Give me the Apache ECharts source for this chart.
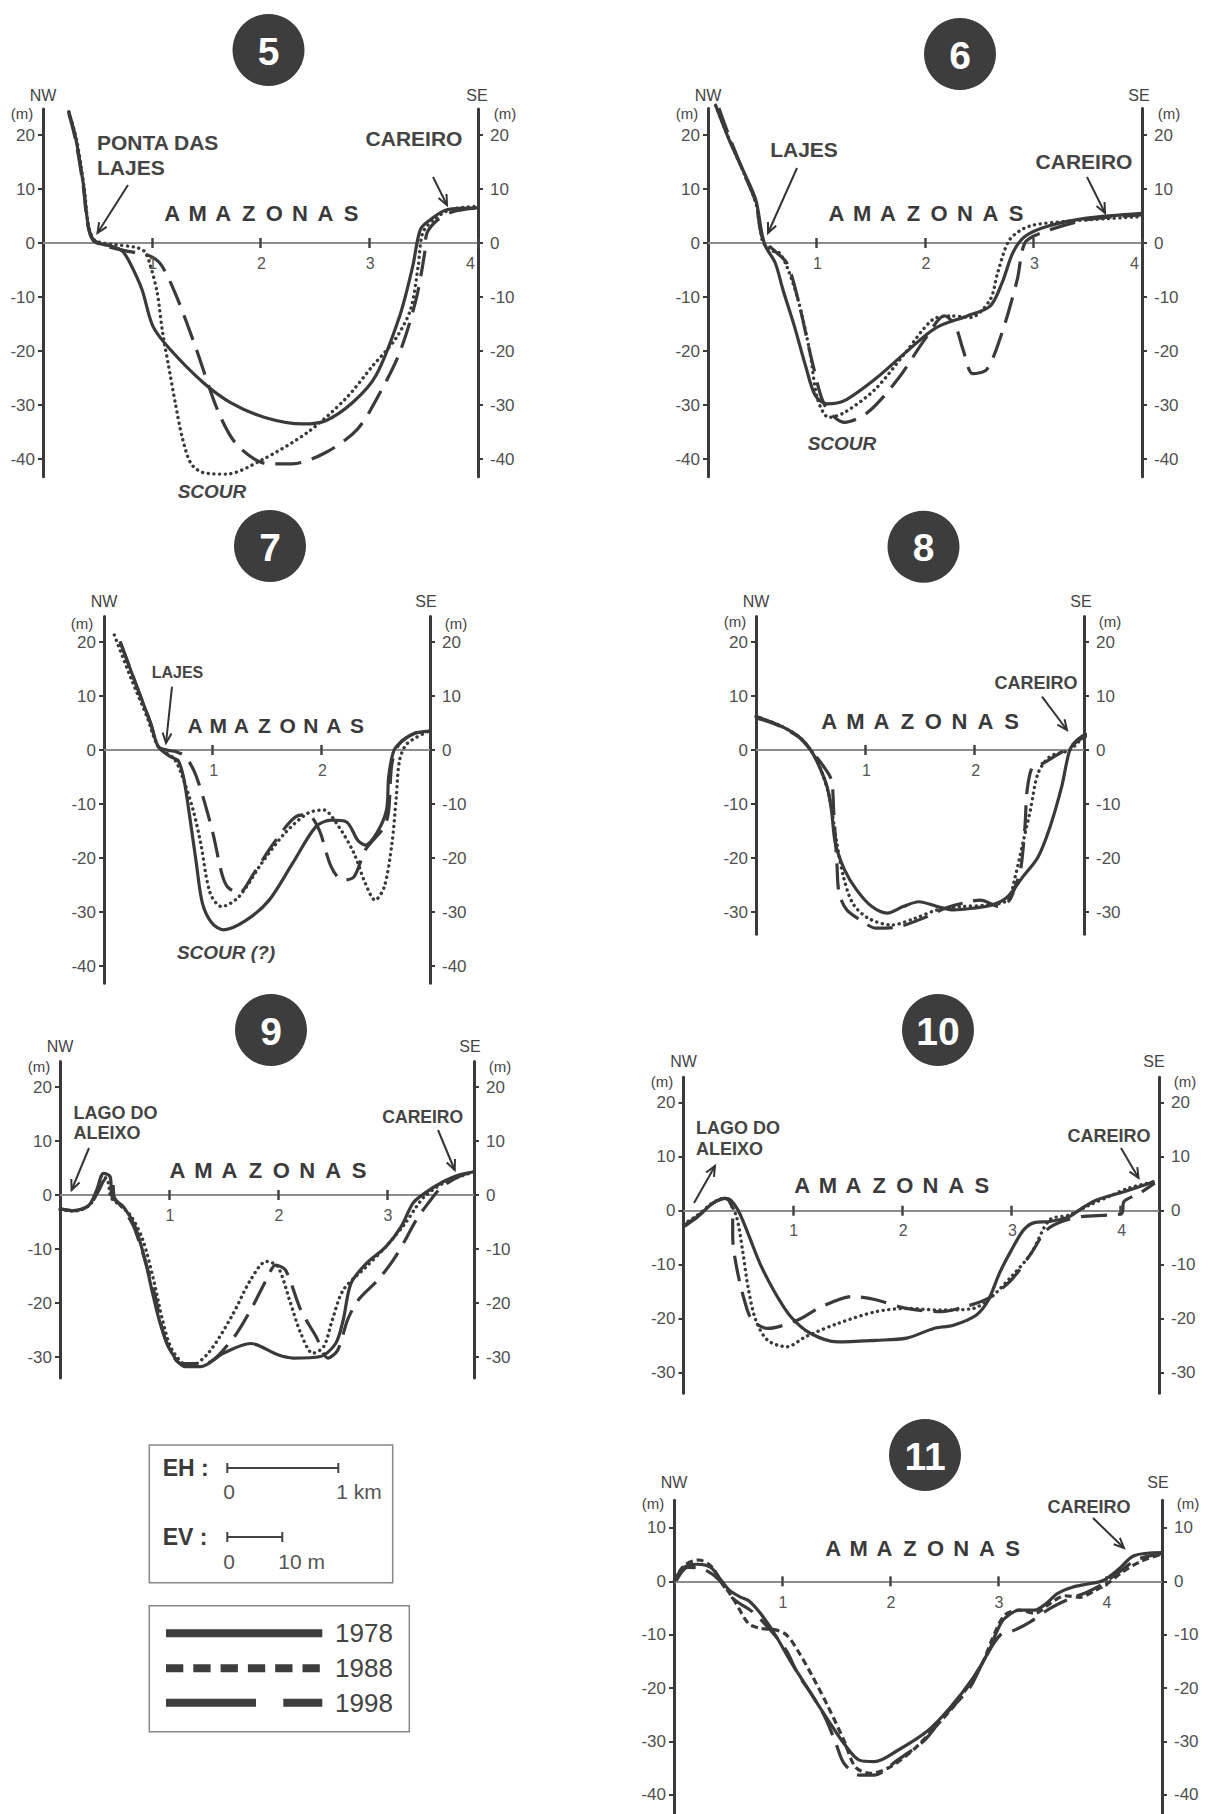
<!DOCTYPE html>
<html>
<head>
<meta charset="utf-8">
<title>Perfis transversais do rio Amazonas</title>
<script src="https://cdn.jsdelivr.net/npm/echarts@6/dist/echarts.min.js"></script>
<style>
html, body { margin: 0; padding: 0; background: #fff; }
#main { width: 1212px; height: 1814px; }
</style>
</head>
<body>
<div id="main"></div>
<script>
// perfis: [distancia (km), cota (m)] por ano
var p5_1978 = [[0.237,24.3],[0.30,19.5],[0.37,11],[0.41,4],[0.45,1],[0.52,-0.1],[0.63,-0.6],[0.73,-1.5],[0.80,-3.7],[0.91,-8.6],[1.01,-15.4],[1.16,-19.5],[1.47,-25.8],[1.72,-29.5],[2.04,-32.3],[2.39,-33.5],[2.60,-32.9],[2.85,-29.5],[3.06,-24.6],[3.28,-13.5],[3.40,-4.3],[3.47,2.5],[3.56,4.3],[3.72,6.2],[4.0,6.5]];
var p5_1988 = [[0.237,24.3],[0.31,19],[0.38,10],[0.42,3],[0.47,0.6],[0.55,0],[0.66,-0.3],[0.85,-0.8],[0.93,-1.5],[0.98,-3.7],[1.05,-9.2],[1.10,-16.6],[1.155,-22.8],[1.22,-30],[1.28,-36],[1.36,-40.8],[1.47,-42.5],[1.685,-42.8],[2.0,-40.3],[2.43,-35.1],[2.78,-28.9],[3.03,-22.8],[3.24,-17.8],[3.38,-12.3],[3.45,-4.3],[3.49,1.8],[3.59,4.3],[3.75,6.2],[4.0,6.8]];
var p5_1998 = [[0.237,24],[0.30,19],[0.37,10.5],[0.41,3.5],[0.46,0.5],[0.55,-0.4],[0.77,-1.5],[0.96,-2.2],[1.085,-4.0],[1.226,-9.8],[1.40,-19.1],[1.615,-31.4],[1.79,-37.5],[2.07,-40.9],[2.29,-40.9],[2.60,-38.8],[2.89,-34.5],[3.10,-27.7],[3.28,-20.3],[3.43,-10.5],[3.51,-1.8],[3.53,1.8],[3.63,4.3],[3.77,5.8],[4.0,6.5]];

var p6_1978 = [[0.07,25.5],[0.195,19.1],[0.336,12.9],[0.44,8.0],[0.496,1.8],[0.53,-0.6],[0.62,-3.7],[0.69,-8.6],[0.796,-15.4],[0.90,-22.8],[0.99,-28.3],[1.10,-29.8],[1.257,-29.2],[1.54,-25.2],[1.82,-20.3],[2.10,-15.7],[2.39,-13.5],[2.60,-11.7],[2.71,-7.4],[2.81,-1.8],[2.92,1.2],[3.13,3.1],[3.49,4.6],[4.0,5.5]];
var p6_1988 = [[0.07,25.5],[0.2,19],[0.34,12.5],[0.44,7.5],[0.49,1.5],[0.51,0],[0.6,-1.5],[0.655,-1.8],[0.726,-4.3],[0.83,-10.5],[0.94,-20.3],[1.01,-28.9],[1.115,-32.3],[1.257,-31.4],[1.54,-27.1],[1.82,-20.3],[2.07,-14.2],[2.25,-13.5],[2.42,-13.8],[2.60,-10.5],[2.67,-5.5],[2.78,0.6],[2.96,3.1],[3.31,4.0],[4.0,4.9]];
var p6_1998 = [[0.1,25],[0.2,19.5],[0.34,12.5],[0.44,7.5],[0.5,1],[0.6,-1.2],[0.726,-3.7],[0.83,-10.5],[0.97,-22.8],[1.08,-30.2],[1.257,-33.2],[1.47,-31.4],[1.75,-25.2],[2.0,-17.8],[2.18,-13.5],[2.28,-15.4],[2.35,-19.7],[2.44,-24.2],[2.57,-23.4],[2.71,-16.6],[2.85,-6.8],[2.92,0],[3.06,1.8],[3.49,4.3],[4.0,5.2]];

var p7_1978 = [[0.148,20.1],[0.29,12.4],[0.43,4.9],[0.50,0.6],[0.607,-1.2],[0.68,-1.9],[0.73,-4.9],[0.78,-11.1],[0.85,-21.0],[0.906,-28.4],[0.995,-32.1],[1.10,-33.3],[1.31,-31.5],[1.52,-27.8],[1.735,-21.0],[1.95,-14.2],[2.09,-13.0],[2.23,-13.3],[2.335,-16.7],[2.405,-17.6],[2.51,-15.4],[2.60,-11.1],[2.62,-4.9],[2.67,0],[2.76,1.9],[2.86,3.1],[2.99,3.5]];
var p7_1988 = [[0.095,21.3],[0.254,13.0],[0.395,6.2],[0.50,0.6],[0.64,-1.5],[0.71,-4.3],[0.82,-11.1],[0.89,-17.3],[0.977,-26.5],[1.083,-29.0],[1.24,-27.2],[1.45,-21.0],[1.665,-15.4],[1.876,-11.7],[2.02,-11.1],[2.16,-14.2],[2.30,-19.1],[2.405,-24.7],[2.495,-27.8],[2.58,-25.3],[2.65,-17.3],[2.69,-8.6],[2.72,-1.9],[2.79,1.2],[2.99,3.5]];
var p7_1998 = [[0.148,20.1],[0.29,12.4],[0.43,4.9],[0.50,0.6],[0.60,-0.1],[0.66,-0.3],[0.75,-1.2],[0.85,-4.9],[0.995,-14.8],[1.083,-22.8],[1.135,-25.3],[1.24,-26.5],[1.38,-22.8],[1.56,-17.3],[1.77,-12.3],[1.876,-12.0],[1.98,-14.8],[2.09,-21.6],[2.195,-24.1],[2.30,-23.5],[2.405,-18.5],[2.58,-14.2],[2.62,-11.1],[2.65,-2.5],[2.72,1.2],[2.86,3.1],[2.99,3.5]];

var p8_1978 = [[0,6.2],[0.21,4.6],[0.39,2.5],[0.50,0],[0.58,-3.1],[0.65,-6.8],[0.69,-11.1],[0.726,-17.3],[0.81,-22.2],[0.92,-25.9],[1.06,-29.0],[1.20,-30.2],[1.345,-29.0],[1.49,-28.1],[1.66,-29.0],[1.805,-29.6],[1.98,-29.3],[2.16,-28.7],[2.30,-27.2],[2.44,-23.5],[2.58,-19.8],[2.69,-14.2],[2.796,-6.8],[2.87,0],[2.94,1.9],[3.01,2.8],[3.15,3.4],[3.27,4.3]];
var p8_1988 = [[0,6.2],[0.21,4.6],[0.39,2.5],[0.50,0],[0.59,-3.5],[0.67,-8.6],[0.74,-17.3],[0.80,-23.5],[0.885,-28.4],[1.03,-31.2],[1.24,-32.4],[1.45,-31.2],[1.66,-29.6],[1.876,-29.0],[2.12,-28.7],[2.30,-27.8],[2.37,-23.5],[2.44,-17.3],[2.51,-11.1],[2.58,-4.3],[2.69,-1.2],[2.87,0],[3.01,2.5],[3.27,4.0]];
var p8_1998 = [[0,6],[0.21,4.5],[0.39,2.4],[0.50,0],[0.62,-3.1],[0.69,-5.6],[0.71,-11.1],[0.74,-21.0],[0.76,-26.5],[0.83,-29.6],[0.956,-31.5],[1.10,-33.0],[1.31,-32.7],[1.56,-30.9],[1.73,-29.3],[1.95,-28.1],[2.05,-27.8],[2.23,-29.0],[2.32,-27.8],[2.37,-25.3],[2.42,-22.2],[2.46,-14.2],[2.48,-7.4],[2.53,-3.1],[2.62,-2.5],[2.73,-1.2],[2.87,0.6],[3.01,2.5],[3.27,4.0]];

var p9_1978 = [[0,-2.5],[0.124,-2.9],[0.265,-1.9],[0.336,0.9],[0.40,4.0],[0.46,3.4],[0.478,-0.3],[0.584,-2.2],[0.69,-5.9],[0.78,-12.0],[0.85,-18.2],[0.92,-23.8],[1.01,-28.7],[1.15,-31.8],[1.29,-31.8],[1.50,-29.3],[1.75,-27.5],[2.0,-29.6],[2.14,-30.2],[2.39,-29.9],[2.53,-27.5],[2.60,-23.1],[2.67,-16.4],[2.81,-12.7],[2.99,-9.6],[3.13,-5.9],[3.24,-1.5],[3.345,0.3],[3.52,2.5],[3.66,3.7],[3.8,4.3]];
var p9_1988 = [[0,-2.7],[0.124,-3.0],[0.265,-2.0],[0.34,0.6],[0.39,3.7],[0.44,2.5],[0.47,-0.5],[0.57,-2.2],[0.655,-4.0],[0.76,-8.3],[0.867,-16.4],[0.94,-23.1],[1.03,-28.7],[1.186,-31.8],[1.36,-29.3],[1.575,-22.5],[1.75,-15.7],[1.894,-12.3],[2.0,-13.3],[2.106,-19.4],[2.21,-25.6],[2.32,-29.3],[2.42,-28.1],[2.50,-23.1],[2.60,-17.6],[2.81,-13.3],[2.99,-9.6],[3.17,-5.2],[3.27,-2.2],[3.345,-0.3],[3.52,2.2],[3.8,4.3]];
var p9_1998 = [[0,-2.6],[0.124,-2.9],[0.265,-2.0],[0.36,1.0],[0.42,3.0],[0.478,2.8],[0.50,-0.5],[0.58,-2.5],[0.69,-6.5],[0.867,-18.2],[0.97,-26.9],[1.115,-31.2],[1.33,-31.2],[1.575,-26.9],[1.75,-21.3],[1.894,-15.7],[1.98,-13.0],[2.07,-13.9],[2.21,-21.3],[2.35,-26.2],[2.46,-30.2],[2.55,-28.7],[2.64,-23.1],[2.74,-19.4],[2.92,-15.7],[3.06,-12.0],[3.17,-8.3],[3.27,-4.6],[3.38,-1.5],[3.49,1.2],[3.66,3.4],[3.8,4.3]];

var p10_1978 = [[0,-3.0],[0.13,-1.1],[0.27,1.4],[0.38,2.3],[0.43,2.0],[0.50,0.1],[0.59,-4.2],[0.70,-9.8],[0.84,-15.3],[0.98,-19.6],[1.16,-22.7],[1.41,-24.3],[1.76,-24.0],[2.04,-23.6],[2.29,-21.8],[2.47,-21.2],[2.68,-19.3],[2.79,-16.5],[2.89,-11.6],[3.0,-7.3],[3.11,-3.6],[3.21,-2.2],[3.35,-2.0],[3.53,-1.1],[3.64,0.4],[3.78,2.0],[4.03,3.5],[4.31,5.4]];
var p10_1988 = [[0,-2.5],[0.13,-0.8],[0.27,1.5],[0.38,2.3],[0.41,2.0],[0.485,-1.1],[0.54,-7.3],[0.59,-14.1],[0.66,-20.2],[0.77,-24.0],[0.946,-25.2],[1.12,-23.3],[1.41,-20.9],[1.76,-18.7],[2.04,-18.1],[2.36,-18.4],[2.65,-18.1],[2.82,-15.9],[3.0,-12.2],[3.18,-7.9],[3.35,-1.7],[3.53,-0.8],[3.71,1.0],[3.89,2.6],[4.06,4.1],[4.31,5.4]];
var p10_1998 = [[0,-2.8],[0.13,-1.0],[0.27,1.4],[0.38,2.3],[0.43,1.5],[0.45,-0.5],[0.45,-4.8],[0.485,-10.4],[0.556,-16.5],[0.627,-20.2],[0.77,-21.8],[1.05,-20.2],[1.26,-17.8],[1.55,-15.9],[1.76,-16.5],[2.04,-18.1],[2.36,-18.7],[2.57,-17.8],[2.79,-16.2],[3.0,-12.8],[3.18,-7.9],[3.32,-3.6],[3.46,-2.0],[3.64,-1.1],[3.89,-0.8],[4.01,-0.5],[4.03,1.7],[4.17,3.2],[4.31,5.1]];

var p11_1978 = [[0,0.1],[0.09,2.6],[0.215,3.2],[0.34,2.6],[0.43,0.4],[0.515,-1.7],[0.62,-3.0],[0.69,-3.6],[0.80,-6.0],[0.94,-10.1],[1.08,-15.0],[1.256,-20.6],[1.43,-26.1],[1.574,-30.4],[1.716,-33.5],[1.857,-33.8],[2.07,-31.7],[2.35,-28.0],[2.56,-23.6],[2.77,-18.1],[2.916,-13.1],[2.99,-9.4],[3.06,-7.0],[3.20,-5.4],[3.34,-5.4],[3.445,-4.2],[3.55,-2.3],[3.69,-1.1],[3.83,-0.5],[3.97,0.1],[4.12,2.3],[4.26,4.8],[4.52,5.4]];
var p11_1988 = [[0,-0.1],[0.09,2.9],[0.23,4.0],[0.34,2.9],[0.445,-0.2],[0.55,-3.3],[0.69,-7.9],[0.80,-8.8],[0.94,-9.1],[1.045,-10.1],[1.15,-13.1],[1.29,-18.1],[1.43,-23.6],[1.574,-29.8],[1.68,-34.8],[1.82,-36.0],[2.0,-34.8],[2.21,-31.7],[2.42,-27.3],[2.63,-22.4],[2.85,-15.6],[2.95,-10.7],[3.06,-6.4],[3.20,-5.4],[3.34,-6.0],[3.48,-4.2],[3.62,-2.7],[3.76,-3.0],[3.90,-1.7],[4.01,-0.5],[4.15,1.7],[4.33,3.8],[4.52,5.1]];
var p11_1998 = [[0.02,0.1],[0.127,2.6],[0.27,2.3],[0.41,0.4],[0.55,-3.3],[0.727,-5.7],[0.904,-9.4],[1.045,-13.1],[1.15,-17.5],[1.256,-20.6],[1.40,-25.5],[1.50,-30.4],[1.574,-34.1],[1.716,-36.3],[1.857,-36.3],[2.07,-33.5],[2.32,-29.8],[2.49,-25.5],[2.74,-19.9],[2.88,-14.4],[3.02,-10.1],[3.16,-9.1],[3.30,-7.6],[3.48,-5.1],[3.66,-3.3],[3.83,-2.0],[3.97,-0.5],[4.12,1.7],[4.29,4.1],[4.52,5.2]];

var years = ['1978', '1988', '1998'];
var yTicksA = [-40, -30, -20, -10, 0, 10, 20];
var yTicksB = [-30, -20, -10, 0, 10, 20];
var yTicksC = [-40, -30, -20, -10, 0, 10];

var FONT = '"Liberation Sans", Arial, sans-serif';
var INK = '#3a3a3a';
var PX_M = 5.4; // pixels por metro

// x0/x1 = eixos esquerdo/direito, y0 = linha do zero
var panels = [
  {num: '5',  x0: 43,    x1: 478,  y0: 243,    xmax: 4,    ymin: -43.3, ymax: 24.8, yTicks: yTicksA, xTicks: [1,2,3,4], data: [p5_1978, p5_1988, p5_1998], s88: 'dot'},
  {num: '6',  x0: 708,   x1: 1142, y0: 243,    xmax: 4,    ymin: -43.3, ymax: 24.9, yTicks: yTicksA, xTicks: [1,2,3,4], data: [p6_1978, p6_1988, p6_1998], s88: 'dot'},
  {num: '7',  x0: 104,   x1: 430,  y0: 750,    xmax: 3,    ymin: -43.2, ymax: 24.7, yTicks: yTicksA, xTicks: [1,2],     data: [p7_1978, p7_1988, p7_1998], s88: 'dot'},
  {num: '8',  x0: 756,   x1: 1084, y0: 750,    xmax: 3,    ymin: -34.1, ymax: 24.7, yTicks: yTicksB, xTicks: [1,2],     data: [p8_1978, p8_1988, p8_1998], s88: 'dot'},
  {num: '9',  x0: 60,    x1: 474,  y0: 1195,   xmax: 3.8,  ymin: -33.9, ymax: 24.7, yTicks: yTicksB, xTicks: [1,2,3],   data: [p9_1978, p9_1988, p9_1998], s88: 'dot'},
  {num: '10', x0: 683.5, x1: 1159, y0: 1210.7, xmax: 4.35, ymin: -33.8, ymax: 24.7, yTicks: yTicksB, xTicks: [1,2,3,4], data: [p10_1978, p10_1988, p10_1998], s88: 'dot'},
  {num: '11', x0: 674,   x1: 1162, y0: 1582.3, xmax: 4.52, ymin: -43.6, ymax: 15.2, yTicks: yTicksC, xTicks: [1,2,3,4], data: [p11_1978, p11_1988, p11_1998], s88: 'dash'}
];

function lineStyleFor(k, s88) {
  if (k === 0) return {color: INK, width: 3.2, type: 'solid'};
  if (k === 1 && s88 === 'dot') return {color: INK, width: 3.4, type: [0.1, 5.6], cap: 'round'};
  if (k === 1) return {color: INK, width: 3.2, type: [7, 4]};
  return {color: INK, width: 3.2, type: [26, 11]};
}

var grid = [], xAxis = [], yAxis = [], series = [];
panels.forEach(function (p, i) {
  var top = p.y0 - p.ymax * PX_M;
  grid.push({left: p.x0, top: top, width: p.x1 - p.x0, height: (p.ymax - p.ymin) * PX_M});
  // linha do zero com tracos para fora e para dentro (dois eixos)
  [false, true].forEach(function (inside) {
    xAxis.push({
      type: 'value', gridIndex: i, min: 0, max: p.xmax, position: 'bottom',
      axisLine: {onZero: true, lineStyle: {color: '#8c8c8c', width: 2}},
      axisTick: {show: true, inside: inside, length: 5, customValues: p.xTicks, lineStyle: {color: '#444', width: 2.5}},
      axisLabel: {show: false},
      splitLine: {show: false}
    });
  });
  ['left', 'right'].forEach(function (side) {
    yAxis.push({
      type: 'value', gridIndex: i, min: p.ymin, max: p.ymax, position: side,
      axisLine: {show: true, onZero: false, lineStyle: {color: INK, width: 3}},
      axisTick: {show: true, length: 5, customValues: p.yTicks, lineStyle: {color: INK, width: 2}},
      axisLabel: {customValues: p.yTicks, margin: side === 'left' ? 8 : 12, color: '#505050', fontSize: 17, fontFamily: FONT},
      splitLine: {show: false}
    });
  });
  p.data.forEach(function (d, k) {
    series.push({
      type: 'line', name: years[k], xAxisIndex: 2 * i, yAxisIndex: 2 * i,
      data: d, symbol: 'none', showSymbol: false, smooth: 0.3, clip: false, silent: true,
      lineStyle: lineStyleFor(k, p.s88), z: 3
    });
  });
});

// ---- anotacoes ----
var gfx = [];
function txt(s, x, y, o) {
  o = o || {};
  gfx.push({type: 'text', x: x, y: y, z: 10, silent: true, style: {
    text: s, fill: o.color || '#444', fontSize: o.size || 16, fontWeight: o.bold ? 'bold' : 'normal',
    fontStyle: o.italic ? 'italic' : 'normal', fontFamily: FONT,
    align: o.align || 'center', verticalAlign: 'middle'
  }});
}
function arrow(x1, y1, x2, y2) {
  var a = Math.atan2(y2 - y1, x2 - x1), L = 11, s = 0.42;
  gfx.push({type: 'line', z: 10, silent: true, shape: {x1: x1, y1: y1, x2: x2, y2: y2}, style: {stroke: '#333', lineWidth: 2}});
  gfx.push({type: 'polyline', z: 10, silent: true, shape: {points: [
    [x2 - L * Math.cos(a - s), y2 - L * Math.sin(a - s)], [x2, y2],
    [x2 - L * Math.cos(a + s), y2 - L * Math.sin(a + s)]]}, style: {stroke: '#333', lineWidth: 2, fill: null}});
}
function badge(cx, cy, label) {
  gfx.push({type: 'circle', z: 10, silent: true, shape: {cx: cx, cy: cy, r: 36}, style: {fill: '#3d3d3d'}});
  txt(label, cx, cy + 1, {color: '#fff', size: 39, bold: true});
}
function amazonas(x0, x1, y, size) {
  var letters = 'AMAZONAS'.split(''), step = (x1 - x0 - 15) / 7;
  letters.forEach(function (c, j) { txt(c, x0 + 7.5 + j * step, y, {size: size, bold: true, color: '#3a3a3a'}); });
}
function heads(p, nwY, mY, mL, mR, seX) {
  txt('NW', p.x0, nwY, {size: 16});
  txt('SE', seX, nwY, {size: 16});
  txt('(m)', mL, mY, {size: 15});
  txt('(m)', mR, mY, {size: 15});
}

// 5
badge(268.5, 50, '5');
heads(panels[0], 95, 113, 22, 505, 477);
txt('PONTA DAS', 97, 142, {bold: true, size: 21, align: 'left'});
txt('LAJES', 97, 167, {bold: true, size: 21, align: 'left'});
txt('CAREIRO', 414, 138.5, {bold: true, size: 21});
txt('SCOUR', 212, 491.5, {bold: true, italic: true, size: 19});
arrow(128, 185, 97.5, 233);
arrow(433, 177, 447, 205);
amazonas(164.6, 358.5, 213.3, 22);

// 6
badge(960, 54, '6');
heads(panels[1], 95, 113, 687, 1169, 1139);
txt('LAJES', 804, 149.5, {bold: true, size: 21});
txt('CAREIRO', 1084, 161.5, {bold: true, size: 21});
txt('SCOUR', 842, 443, {bold: true, italic: true, size: 19});
arrow(797, 168, 768, 233);
arrow(1087, 177, 1105, 213);
amazonas(829, 1023.7, 213.3, 22);

// 7
badge(270, 546, '7');
heads(panels[2], 601.7, 623, 82, 456, 426);
txt('LAJES', 177.5, 672.7, {bold: true, size: 16});
txt('SCOUR (?)', 226, 952, {bold: true, italic: true, size: 19});
arrow(172, 686.7, 166, 743);
amazonas(187.5, 364.6, 725, 21);

// 8
badge(923.5, 546.7, '8');
heads(panels[3], 601.7, 621, 735, 1110, 1081);
txt('CAREIRO', 1036, 682.7, {bold: true, size: 18});
arrow(1042, 696.7, 1067, 730);
amazonas(821.8, 1019, 721.7, 22);

// 9
badge(271, 1030, '9');
heads(panels[4], 1046.7, 1066, 39, 500, 470);
txt('LAGO DO', 73.5, 1112.7, {bold: true, size: 18, align: 'left'});
txt('ALEIXO', 73.5, 1133.3, {bold: true, size: 18, align: 'left'});
txt('CAREIRO', 422.7, 1117.3, {bold: true, size: 17.5});
arrow(89, 1148, 71.6, 1190);
arrow(438, 1130, 454.7, 1170);
amazonas(170, 366.7, 1170, 22);

// 10
badge(938, 1030, '10');
heads(panels[5], 1061.7, 1081.7, 662, 1185, 1154);
txt('LAGO DO', 696, 1127.7, {bold: true, size: 18, align: 'left'});
txt('ALEIXO', 696, 1149, {bold: true, size: 18, align: 'left'});
txt('CAREIRO', 1109, 1136, {bold: true, size: 18});
arrow(694, 1203, 715, 1166);
arrow(1121, 1148, 1138.5, 1178);
amazonas(794.6, 989.4, 1185, 22);

// 11
badge(925, 1455, '11');
heads(panels[6], 1482.7, 1503, 653, 1188, 1158);
txt('CAREIRO', 1089, 1507, {bold: true, size: 18});
arrow(1093, 1518, 1124, 1548);
amazonas(825.6, 1020, 1548.3, 22);

// ---- escalas ----
gfx.push({type: 'rect', z: 10, silent: true, shape: {x: 149.3, y: 1445, width: 243.4, height: 137.7}, style: {fill: null, stroke: '#888', lineWidth: 1.5}});
function bar(x1, x2, y) {
  gfx.push({type: 'line', z: 10, silent: true, shape: {x1: x1, y1: y, x2: x2, y2: y}, style: {stroke: '#444', lineWidth: 2}});
  gfx.push({type: 'line', z: 10, silent: true, shape: {x1: x1, y1: y - 5, x2: x1, y2: y + 5}, style: {stroke: '#444', lineWidth: 2}});
  gfx.push({type: 'line', z: 10, silent: true, shape: {x1: x2, y1: y - 5, x2: x2, y2: y + 5}, style: {stroke: '#444', lineWidth: 2}});
}
txt('EH :', 162.7, 1468.3, {bold: true, size: 23, align: 'left', color: '#3a3a3a'});
bar(227.3, 338.3, 1468);
txt('0', 229, 1491.7, {size: 21, color: '#555'});
txt('1 km', 381.7, 1491.7, {size: 21, color: '#555', align: 'right'});
txt('EV :', 162.7, 1536.7, {bold: true, size: 23, align: 'left', color: '#3a3a3a'});
bar(227.3, 282.3, 1537);
txt('0', 229, 1561.7, {size: 21, color: '#555'});
txt('10 m', 301.7, 1561.7, {size: 21, color: '#555'});

// ---- legenda ----
gfx.push({type: 'rect', z: 10, silent: true, shape: {x: 149.3, y: 1605.7, width: 260, height: 126}, style: {fill: null, stroke: '#888', lineWidth: 1.5}});
var legendY = [1633.3, 1668.3, 1702.7];
var legendDash = [null, [17.3, 10], [90, 27.3]];
years.forEach(function (yr, k) {
  gfx.push({type: 'line', z: 10, silent: true, shape: {x1: 166, y1: legendY[k], x2: 322.3, y2: legendY[k]},
    style: {stroke: '#3d3d3d', lineWidth: 8, lineDash: legendDash[k]}});
  txt(yr, 335, legendY[k], {size: 26, color: '#444', align: 'left'});
});

var chart = echarts.init(document.getElementById('main'), null, {renderer: 'svg', width: 1212, height: 1814});
chart.setOption({
  animation: false,
  backgroundColor: '#fff',
  grid: grid,
  xAxis: xAxis,
  yAxis: yAxis,
  series: series
});

// rotulos das distancias junto a linha do zero, posicionados pela escala do eixo
panels.forEach(function (p, i) {
  p.xTicks.forEach(function (v) {
    var px = chart.convertToPixel({xAxisIndex: 2 * i}, v);
    var atEdge = v === p.xmax;
    txt(String(v), atEdge ? px - 3 : px + 1, p.y0 + 20, {size: 16, color: '#555', align: atEdge ? 'right' : 'center'});
  });
});
chart.setOption({graphic: gfx});
</script>
</body>
</html>
